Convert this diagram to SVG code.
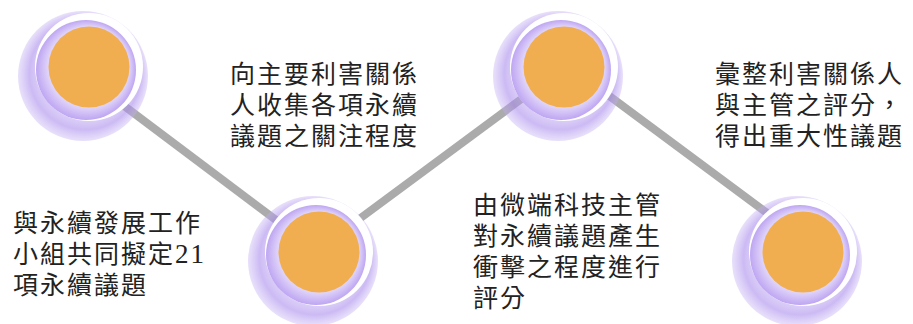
<svg xmlns="http://www.w3.org/2000/svg" width="913" height="324" viewBox="0 0 913 324">
  <style>
    .conn { stroke: #ABABAB; stroke-width: 8; fill: none; }
    .lbl { font-family: "Noto Sans CJK TC", "Noto Sans", sans-serif; font-size: 25px; letter-spacing: 2px; fill: #222222; }
    .num { font-family: "Liberation Serif", serif; font-size: 27px; letter-spacing: 2px; }
    .glow { fill: url(#glowGrad); }
    .ring { fill: #FFFFFF; }
    .inner { fill: url(#innerGrad); }
    .core { fill: #F0AE50; }
  </style>
  <defs>
    <radialGradient id="glowGrad" cx="0.5" cy="0.5" r="0.5" fx="0.62" fy="0.38">
      <stop offset="0" stop-color="#ffffff" stop-opacity="0"/>
      <stop offset="0.6" stop-color="#c8b2f5" stop-opacity="0.38"/>
      <stop offset="0.86" stop-color="#a98cec" stop-opacity="0.6"/>
      <stop offset="1" stop-color="#c4aef3" stop-opacity="0.38"/>
    </radialGradient>
    <radialGradient id="innerGrad" cx="0.5" cy="0.5" r="0.5" fx="0.65" fy="0.35">
      <stop offset="0" stop-color="#ffffff"/>
      <stop offset="0.72" stop-color="#f1ebfd"/>
      <stop offset="1" stop-color="#bea6f2"/>
    </radialGradient>
  </defs>

  <g id="connectors">
    <line class="conn" x1="95" y1="84" x2="300" y2="238"/>
    <line class="conn" x1="330" y1="240.6" x2="550" y2="77.8"/>
    <line class="conn" x1="575" y1="70.5" x2="790" y2="230"/>
  </g>

  <g id="node-1">
    <circle class="glow" cx="83" cy="76" r="65"/>
    <circle class="ring" cx="89" cy="67" r="54"/>
    <circle class="inner" cx="86" cy="70" r="50"/>
    <circle class="core" cx="89" cy="67" r="40.5"/>
    <text class="lbl" x="13" y="232">與永續發展工作</text>
    <text class="lbl" x="13" y="263">小組共同擬定<tspan class="num">21</tspan></text>
    <text class="lbl" x="13" y="294">項永續議題</text>
  </g>

  <g id="node-2">
    <circle class="glow" cx="313" cy="261" r="65"/>
    <circle class="ring" cx="319" cy="252" r="54"/>
    <circle class="inner" cx="316" cy="255" r="50"/>
    <circle class="core" cx="319" cy="252" r="40.5"/>
    <text class="lbl" x="230" y="83">向主要利害關係</text>
    <text class="lbl" x="230" y="114">人收集各項永續</text>
    <text class="lbl" x="230" y="145">議題之關注程度</text>
  </g>

  <g id="node-3">
    <circle class="glow" cx="558" cy="76" r="65"/>
    <circle class="ring" cx="564" cy="67" r="54"/>
    <circle class="inner" cx="561" cy="70" r="50"/>
    <circle class="core" cx="564" cy="67" r="40.5"/>
    <text class="lbl" x="473" y="214">由微端科技主管</text>
    <text class="lbl" x="473" y="245">對永續議題產生</text>
    <text class="lbl" x="473" y="276">衝擊之程度進行</text>
    <text class="lbl" x="473" y="307">評分</text>
  </g>

  <g id="node-4">
    <circle class="glow" cx="797" cy="261" r="65"/>
    <circle class="ring" cx="803" cy="252" r="54"/>
    <circle class="inner" cx="800" cy="255" r="50"/>
    <circle class="core" cx="803" cy="252" r="40.5"/>
    <text class="lbl" x="715" y="83">彙整利害關係人</text>
    <text class="lbl" x="715" y="114">與主管之評分，</text>
    <text class="lbl" x="715" y="145">得出重大性議題</text>
  </g>
</svg>
